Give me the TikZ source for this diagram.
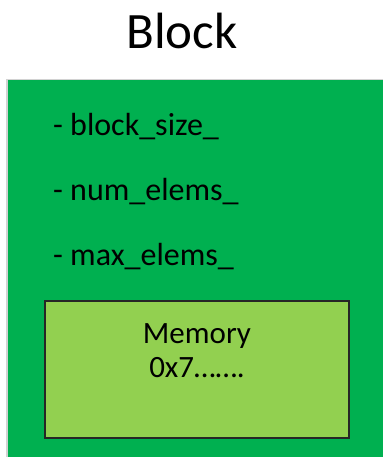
\documentclass[tikz,border=0pt]{standalone}
\usepackage{fontspec}
\setmainfont{Carlito}
\definecolor{officegreen}{HTML}{00B050}
\definecolor{lightgreen}{HTML}{92D050}
\begin{document}
\begin{tikzpicture}[x=1pt,y=-1pt,
  field/.style={anchor=base west, inner sep=0pt, font=\fontsize{32}{38}\selectfont},
  memtext/.style={anchor=base, inner sep=0pt, font=\fontsize{31}{34}\selectfont}]
  \useasboundingbox (0,0) rectangle (383,457);
  % outer block with a faint shadow edge
  \fill[gray!35] (6,79) rectangle (383,457);
  \fill[officegreen] (7.5,80.5) rectangle (383,457);
  \node[anchor=base, inner sep=0pt, font=\fontsize{51}{60}\selectfont] (title) at (182,49) {Block};
  \node[field] (bs) at (53,136) {- block\_size\_};
  \node[field] (ne) at (53,200) {- num\_elems\_};
  \node[field] (me) at (53,265) {- max\_elems\_};
  \draw[draw=black!85, line width=1.5pt, fill=lightgreen] (45,301) rectangle (349,438);
  \node[memtext] (mem) at (197,343) {Memory};
  \node[memtext] (addr) at (197,377) {0x7…….};
\end{tikzpicture}
\end{document}
